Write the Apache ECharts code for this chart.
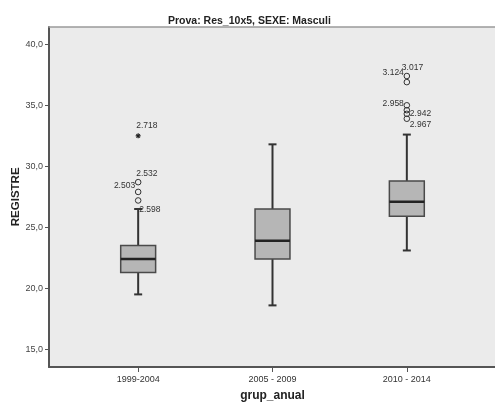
<!DOCTYPE html>
<html>
<head>
<meta charset="utf-8">
<script src="https://cdn.jsdelivr.net/npm/echarts@6/dist/echarts.min.js"></script>
<style>
html,body{margin:0;padding:0;background:#fff;}
#chart{width:495px;height:402px;}
</style>
</head>
<body>
<div id="chart"></div>
<script>
// ---- data ----
const titleText = 'Prova: Res_10x5, SEXE: Masculi';
const yName = 'REGISTRE';
const xName = 'grup_anual';
const categories = ['1999-2004', '2005 - 2009', '2010 - 2014'];
const yTicks = [15, 20, 25, 30, 35, 40];
const boxMin    = [19.5, 18.6, 23.1];
const boxQ1     = [21.3, 22.4, 25.9];
const boxMedian = [22.4, 23.9, 27.1];
const boxQ3     = [23.5, 26.5, 28.8];
const boxMax    = [26.5, 31.8, 32.6];
const outlierGroup = [0, 0, 0, 2, 2, 2, 2, 2, 2];
const outlierValue = [28.7, 27.9, 27.2, 37.4, 36.9, 35.0, 34.6, 34.3, 33.9];
const outlierLabel = ['2.532', '2.503', '2.598', '3.017', '3.124', '2.958', '', '2.942', '2.967'];
const extremeGroup = [0];
const extremeValue = [32.5];
const extremeLabel = ['2.718'];

// ---- styles ----
const FONT = '"Liberation Sans", Arial, sans-serif';
const labelPlacement = {
  '2.718': {align: 'left', dx: -2, dy: -10},
  '2.532': {align: 'left', dx: -2, dy: -9},
  '2.503': {align: 'right', dx: -3, dy: -6},
  '2.598': {align: 'left', dx: 1, dy: 9},
  '3.017': {align: 'left', dx: -5, dy: -8},
  '3.124': {align: 'right', dx: -3, dy: -9},
  '2.958': {align: 'right', dx: -3, dy: -2},
  '2.942': {align: 'left', dx: 3, dy: 0},
  '2.967': {align: 'left', dx: 3, dy: 6}
};

const boxData = categories.map((c, i) => [i, boxMin[i], boxQ1[i], boxMedian[i], boxQ3[i], boxMax[i]]);
const outlierData = outlierGroup.map((g, i) => [g, outlierValue[i]]);
const extremeData = extremeGroup.map((g, i) => [g, extremeValue[i]]);

function labelEl(lbl, p) {
  const pl = labelPlacement[lbl];
  return {type: 'text', z2: 20, style: {text: lbl, x: p[0] + pl.dx, y: p[1] + pl.dy, align: pl.align,
    verticalAlign: 'middle', font: '8.5px ' + FONT, fill: '#333'}};
}

function renderBox(params, api) {
  const x = api.value(0);
  const pMin = api.coord([x, api.value(1)]);
  const pQ1 = api.coord([x, api.value(2)]);
  const pMed = api.coord([x, api.value(3)]);
  const pQ3 = api.coord([x, api.value(4)]);
  const pMax = api.coord([x, api.value(5)]);
  const bw = api.size([1, 0])[0] * 0.26;
  const cx = pMin[0];
  const stroke = '#333';
  return {type: 'group', children: [
    {type: 'line', shape: {x1: cx, y1: pQ3[1], x2: cx, y2: pMax[1]}, style: {stroke, lineWidth: 2}},
    {type: 'line', shape: {x1: cx, y1: pQ1[1], x2: cx, y2: pMin[1]}, style: {stroke, lineWidth: 2}},
    {type: 'line', shape: {x1: cx - 4, y1: pMax[1], x2: cx + 4, y2: pMax[1]}, style: {stroke, lineWidth: 2}},
    {type: 'line', shape: {x1: cx - 4, y1: pMin[1], x2: cx + 4, y2: pMin[1]}, style: {stroke, lineWidth: 2}},
    {type: 'rect', shape: {x: cx - bw / 2, y: pQ3[1], width: bw, height: pQ1[1] - pQ3[1]},
      style: {fill: '#b6b6b6', stroke: '#4a4a4a', lineWidth: 1.5}},
    {type: 'line', shape: {x1: cx - bw / 2, y1: pMed[1], x2: cx + bw / 2, y2: pMed[1]}, style: {stroke: '#222', lineWidth: 2.5}}
  ]};
}

function renderOutlier(params, api) {
  const p = api.coord([api.value(0), api.value(1)]);
  const lbl = outlierLabel[params.dataIndex];
  const children = [{type: 'circle', shape: {cx: p[0], cy: p[1], r: 2.8}, style: {fill: 'none', stroke: '#333', lineWidth: 1}}];
  if (lbl) children.push(labelEl(lbl, p));
  return {type: 'group', children};
}

function renderExtreme(params, api) {
  const p = api.coord([api.value(0), api.value(1)]);
  const lbl = extremeLabel[params.dataIndex];
  const r = 2.5;
  const children = [
    {type: 'line', shape: {x1: p[0] - r, y1: p[1], x2: p[0] + r, y2: p[1]}, style: {stroke: '#222', lineWidth: 1.2}},
    {type: 'line', shape: {x1: p[0], y1: p[1] - r, x2: p[0], y2: p[1] + r}, style: {stroke: '#222', lineWidth: 1.2}},
    {type: 'line', shape: {x1: p[0] - r * 0.7, y1: p[1] - r * 0.7, x2: p[0] + r * 0.7, y2: p[1] + r * 0.7}, style: {stroke: '#222', lineWidth: 1.2}},
    {type: 'line', shape: {x1: p[0] - r * 0.7, y1: p[1] + r * 0.7, x2: p[0] + r * 0.7, y2: p[1] - r * 0.7}, style: {stroke: '#222', lineWidth: 1.2}}
  ];
  if (lbl) children.push(labelEl(lbl, p));
  return {type: 'group', children};
}

const chart = echarts.init(document.getElementById('chart'), null, {renderer: 'canvas'});
const hidden = {show: false};
chart.setOption({
  animation: false,
  backgroundColor: '#ffffff',
  title: {
    text: titleText, left: 163, top: 11,
    textStyle: {fontFamily: FONT, fontSize: 10.5, fontWeight: 'bold', color: '#222'}
  },
  grid: [
    {left: 49, right: 0, top: 27, bottom: 35, show: true, backgroundColor: '#ebebeb', borderWidth: 0,
      containLabel: false, outerBoundsMode: 'none'},
    {left: 71, right: 21, top: 44.3, bottom: 52.7, containLabel: false, outerBoundsMode: 'none'}
  ],
  xAxis: [
    {gridIndex: 0, type: 'value', min: 0, max: 1, position: 'bottom',
      axisLine: {show: true, lineStyle: {color: '#555', width: 2}}, axisTick: hidden, axisLabel: hidden, splitLine: hidden},
    {gridIndex: 0, type: 'value', min: 0, max: 1, position: 'top',
      axisLine: {show: true, lineStyle: {color: '#9a9a9a', width: 1.5}}, axisTick: hidden, axisLabel: hidden, splitLine: hidden},
    {gridIndex: 1, type: 'category', data: categories, boundaryGap: true, position: 'bottom', offset: 17.7,
      axisLine: hidden,
      axisTick: {show: true, alignWithLabel: true, inside: false, length: 5, lineStyle: {color: '#555', width: 1}},
      axisLabel: {fontFamily: FONT, fontSize: 9, color: '#333', margin: 8},
      splitLine: hidden,
      name: xName, nameLocation: 'middle', nameGap: 23,
      nameTextStyle: {fontFamily: FONT, fontSize: 12, fontWeight: 'bold', color: '#222'}}
  ],
  yAxis: [
    {gridIndex: 0, type: 'value', min: 0, max: 1, position: 'left',
      axisLine: {show: true, lineStyle: {color: '#555', width: 2}}, axisTick: hidden, axisLabel: hidden, splitLine: hidden},
    {gridIndex: 1, type: 'value', min: yTicks[0], max: yTicks[yTicks.length - 1], interval: yTicks[1] - yTicks[0],
      position: 'left', offset: 22,
      axisLine: hidden,
      axisTick: {show: true, inside: false, length: 4, lineStyle: {color: '#555', width: 1}},
      axisLabel: {fontFamily: FONT, fontSize: 9, color: '#444', margin: 6,
        formatter: v => v.toFixed(1).replace('.', ',')},
      splitLine: hidden,
      name: yName, nameLocation: 'middle', nameGap: 27, nameMoveOverlap: false,
      nameTextStyle: {fontFamily: FONT, fontSize: 11.5, fontWeight: 'bold', color: '#222'}}
  ],
  series: [
    {type: 'custom', xAxisIndex: 2, yAxisIndex: 1, data: boxData, renderItem: renderBox,
      encode: {x: 0, y: [1, 2, 3, 4, 5]}, clip: false},
    {type: 'custom', xAxisIndex: 2, yAxisIndex: 1, data: outlierData, renderItem: renderOutlier,
      encode: {x: 0, y: 1}, clip: false, z: 3},
    {type: 'custom', xAxisIndex: 2, yAxisIndex: 1, data: extremeData, renderItem: renderExtreme,
      encode: {x: 0, y: 1}, clip: false, z: 3}
  ]
});
</script>
</body>
</html>
